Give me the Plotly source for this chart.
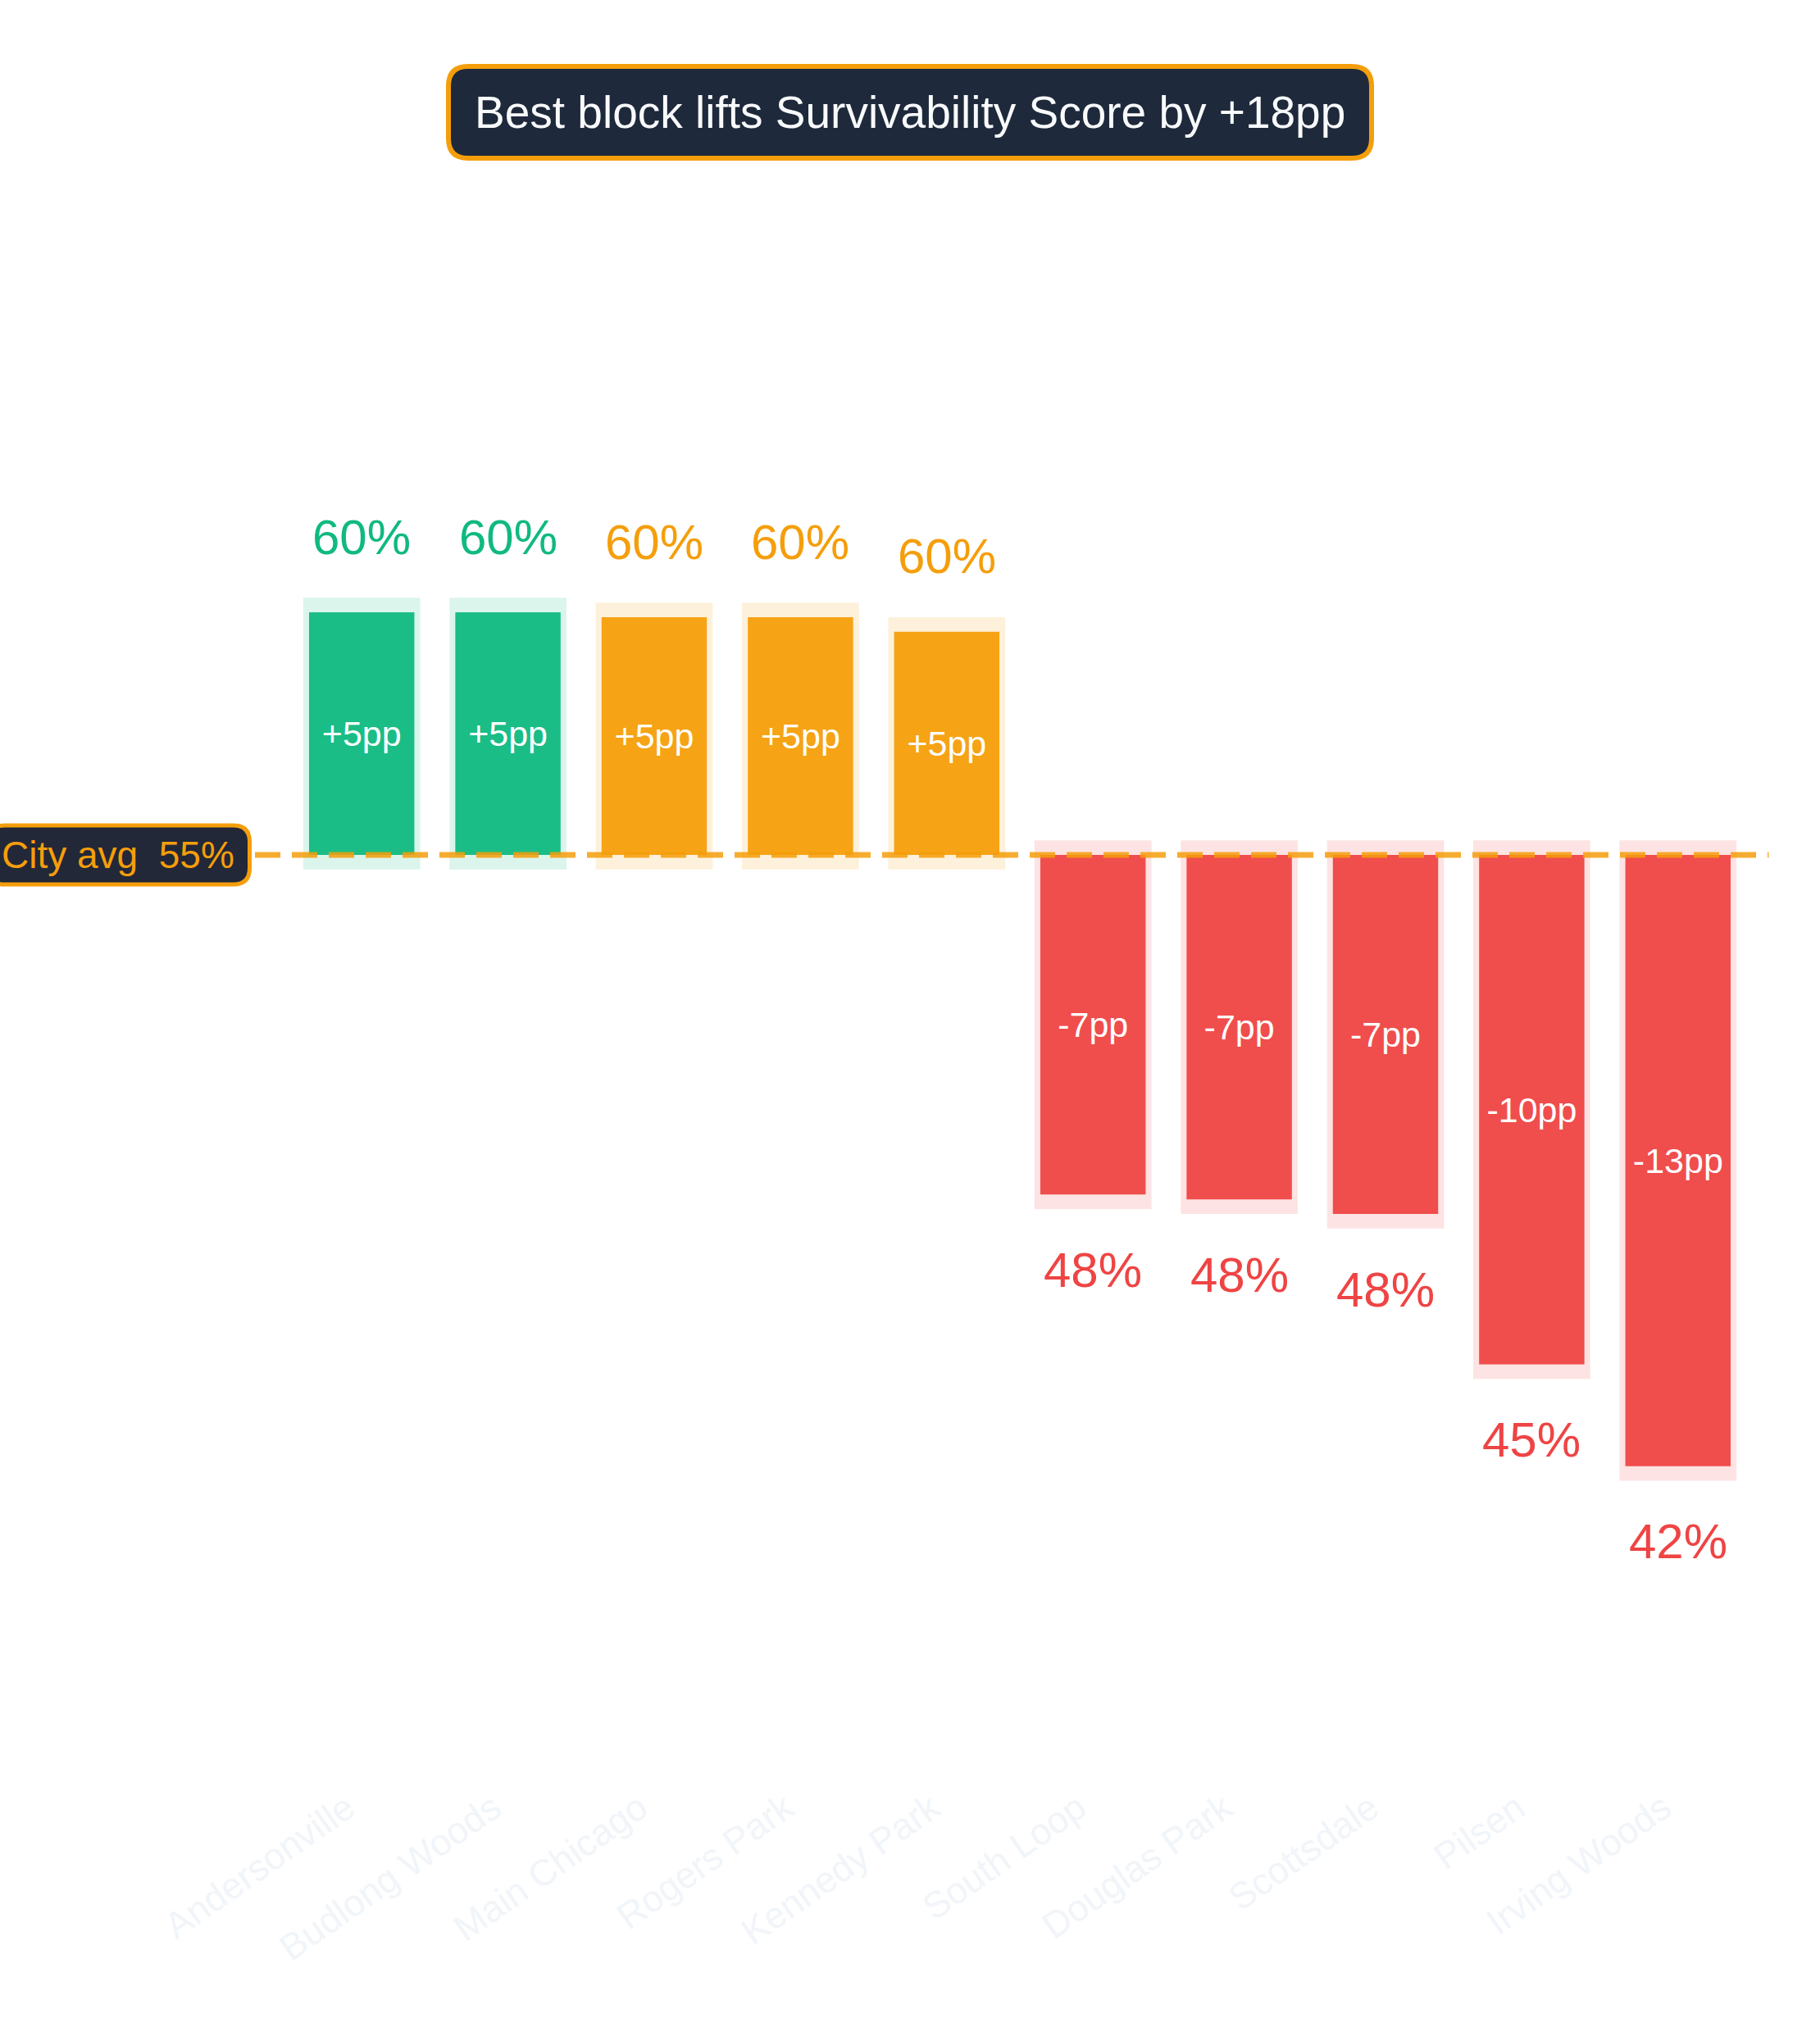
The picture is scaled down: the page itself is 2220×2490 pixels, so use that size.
import numpy as np
import plotly.graph_objects as go

# neighbourhood survivability scores (%), city average 55%
NEIGHBOURHOODS = ['Andersonville', 'Budlong Woods', 'Main Chicago', 'Rogers Park',
                  'Kennedy Park', 'South Loop', 'Douglas Park', 'Scottsdale',
                  'Pilsen', 'Irving Woods']
SCORES = [60.0, 60.0, 59.9, 59.9, 59.6, 48.0, 47.9, 47.6, 44.5, 42.4]
SCORE_LABELS = ['60%', '60%', '60%', '60%', '60%', '48%', '48%', '48%', '45%', '42%']
DELTA_LABELS = ['+5pp', '+5pp', '+5pp', '+5pp', '+5pp',
                '-7pp', '-7pp', '-7pp', '-10pp', '-13pp']
TIERS = ['top', 'top', 'mid', 'mid', 'mid', 'low', 'low', 'low', 'low', 'low']
CITY_AVG = 55.0
TITLE = 'Best block lifts Survivability Score by +18pp'

TIER_COLOR = {'top': '#10b981', 'mid': '#f59e0b', 'low': '#ef4444'}
TIER_HALO = {'top': 'rgba(16,185,129,0.15)', 'mid': 'rgba(245,158,11,0.15)',
             'low': 'rgba(239,68,68,0.15)'}
AMBER = '#f59e0b'
NAVY = '#1e293b'
FONT = 'Liberation Sans, Arial, Helvetica, sans-serif'

W, H = 2220, 2490
ML, MR, MT, MB = 352, 84, 170, 320
Y_RANGE = [35.96, 69.75]
HALO_PAD = 0.3


def rounded_rect(cx, cy, w, h, r):
    x0, x1, y0, y1 = cx - w / 2, cx + w / 2, cy - h / 2, cy + h / 2
    return (f'M {x0 + r},{y0} L {x1 - r},{y0} Q {x1},{y0} {x1},{y0 + r} '
            f'L {x1},{y1 - r} Q {x1},{y1} {x1 - r},{y1} '
            f'L {x0 + r},{y1} Q {x0},{y1} {x0},{y1 - r} '
            f'L {x0},{y0 + r} Q {x0},{y0} {x0 + r},{y0} Z')


def main():
    scores = np.array(SCORES)
    delta = scores - CITY_AVG
    colors = [TIER_COLOR[t] for t in TIERS]
    halos = [TIER_HALO[t] for t in TIERS]

    fig = go.Figure()
    # soft halo behind each bar
    fig.add_trace(go.Bar(
        x=NEIGHBOURHOODS, y=np.abs(delta) + 2 * HALO_PAD,
        base=np.minimum(scores, CITY_AVG) - HALO_PAD,
        width=0.8, marker=dict(color=halos, line_width=0),
        hoverinfo='skip', showlegend=False,
    ))
    fig.add_trace(go.Bar(
        x=NEIGHBOURHOODS, y=delta, base=CITY_AVG,
        width=0.72, marker=dict(color=colors, opacity=0.95, line_width=0),
        text=DELTA_LABELS, textposition='inside', insidetextanchor='middle',
        textangle=0, textfont=dict(color='white', size=43, family=FONT),
        hoverinfo='skip', showlegend=False,
    ))

    annotations = []
    for name, s, lab, c in zip(NEIGHBOURHOODS, SCORES, SCORE_LABELS, colors):
        up = s >= CITY_AVG
        annotations.append(dict(
            x=name, y=s, text=lab, showarrow=False, yanchor='middle',
            yshift=92 if up else -92,
            font=dict(color=c, size=60, family=FONT)))

    plot_w = W - ML - MR
    plot_h = H - MT - MB
    title_px = (W / 2 - ML) / plot_w
    title_py = (H - MB - 137) / plot_h
    annotations.append(dict(
        xref='paper', yref='paper', x=title_px, y=title_py, text=TITLE,
        showarrow=False, xanchor='center', yanchor='middle',
        font=dict(color='#f8fafc', size=55, family=FONT)))
    annotations.append(dict(
        xref='paper', yref='y', x=0, y=CITY_AVG, text='City avg&nbsp; 55%',
        showarrow=False, xanchor='right', yanchor='middle', xshift=-64,
        font=dict(color=AMBER, size=46, family=FONT)))

    shapes = [
        # city average reference line
        dict(type='line', xref='paper', yref='y', x0=-0.25, x1=1.012,
             y0=CITY_AVG, y1=CITY_AVG, layer='above', opacity=0.85,
             line=dict(color=AMBER, width=7, dash='31px,14px')),
        # rounded box of the city average label
        dict(type='path', xref='paper', yref='y', xsizemode='pixel',
             ysizemode='pixel', xanchor=0, yanchor=CITY_AVG, layer='above',
             path=rounded_rect(-207, 0, 319, 72, 20),
             fillcolor='#222838', line=dict(color=AMBER, width=5)),
        # rounded box of the headline
        dict(type='path', xref='paper', yref='paper', xsizemode='pixel',
             ysizemode='pixel', xanchor=title_px, yanchor=title_py,
             layer='above', path=rounded_rect(0, 0, 1126, 112, 24),
             fillcolor=NAVY, line=dict(color=AMBER, width=6)),
    ]

    fig.update_layout(
        width=W, height=H, barmode='overlay',
        paper_bgcolor='white', plot_bgcolor='white',
        margin=dict(l=ML, r=MR, t=MT, b=MB),
        font=dict(family=FONT),
        annotations=annotations, shapes=shapes,
        xaxis=dict(showgrid=False, zeroline=False, showline=False,
                   tickangle=-35, ticks='', range=[-0.5, 9.5],
                   ticklabelshift=-18,
                   tickfont=dict(color='#f1f5f9', size=45, family=FONT)),
        yaxis=dict(range=Y_RANGE, visible=False, showgrid=False),
    )
    # drop the browser's default page margin so the figure sits at (0, 0)
    fig.write_html('out.html', config={'displayModeBar': False},
                   post_script="document.body.style.margin='0';")


if __name__ == '__main__':
    main()
